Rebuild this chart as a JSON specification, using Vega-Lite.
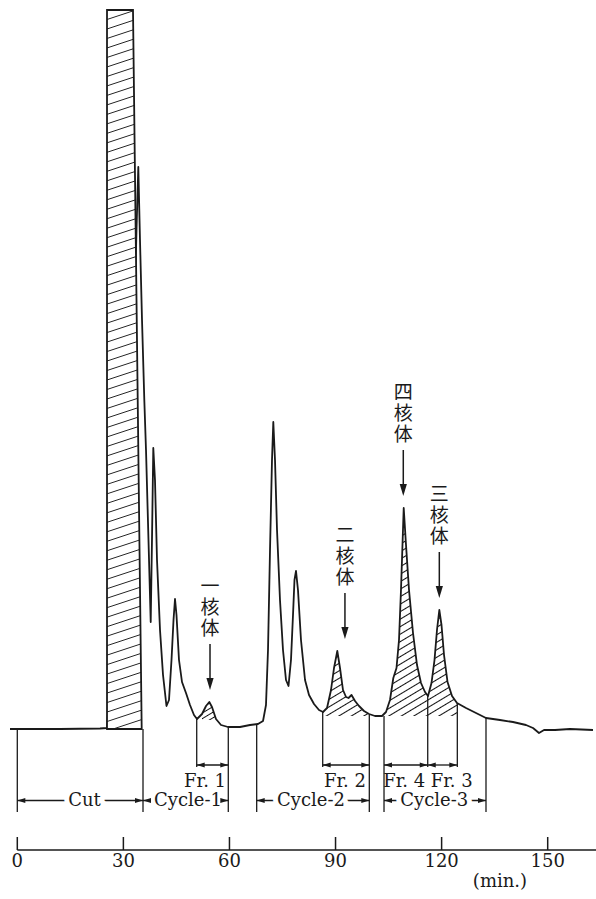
{
"$schema": "https://vega.github.io/schema/vega-lite/v6.json",
"width": 596, "height": 899, "autosize": {"type": "none"}, "padding": 0, "background": "white",
"config": {"view": {"stroke": null}, "axis": {"disable": true}},
"datasets": {
"curve": [
{"t":-2.06,"v":0},{"t":12.08,"v":0},{"t":23.39,"v":0.5},{"t":25.37,"v":1},{"t":33.29,"v":439},{"t":33.71,"v":499},{"t":34.22,"v":562},{"t":34.70,"v":489},{"t":35.27,"v":409},{"t":35.92,"v":329},{"t":36.40,"v":279},{"t":37.10,"v":189},{"t":37.73,"v":107},{"t":38.09,"v":189},{"t":38.46,"v":281},{"t":38.94,"v":249},{"t":39.51,"v":169},{"t":40.36,"v":99},{"t":41.21,"v":54},{"t":42.19,"v":23},{"t":42.90,"v":29},{"t":43.61,"v":69},{"t":44.18,"v":109},{"t":44.60,"v":130},{"t":45.02,"v":114},{"t":45.73,"v":69},{"t":46.58,"v":47},{"t":47.71,"v":36},{"t":48.84,"v":24},{"t":49.97,"v":14},{"t":50.82,"v":10},{"t":52.24,"v":15},{"t":53.37,"v":23},{"t":54.30,"v":27},{"t":55.06,"v":22},{"t":56.19,"v":10},{"t":57.61,"v":4},{"t":59.59,"v":2},{"t":62.98,"v":2},{"t":65.81,"v":4},{"t":68.07,"v":5},{"t":69.49,"v":8},{"t":70.33,"v":24},{"t":70.90,"v":79},{"t":71.47,"v":179},{"t":72.03,"v":269},{"t":72.40,"v":307},{"t":72.88,"v":269},{"t":73.45,"v":199},{"t":74.29,"v":129},{"t":75.14,"v":79},{"t":75.99,"v":49},{"t":76.70,"v":43},{"t":77.40,"v":69},{"t":77.97,"v":114},{"t":78.39,"v":149},{"t":78.82,"v":158},{"t":79.38,"v":139},{"t":80.23,"v":89},{"t":81.37,"v":49},{"t":82.50,"v":34},{"t":83.91,"v":25},{"t":85.32,"v":19},{"t":86.46,"v":17},{"t":87.59,"v":21},{"t":88.72,"v":39},{"t":89.57,"v":61},{"t":90.50,"v":78},{"t":91.26,"v":61},{"t":92.11,"v":39},{"t":92.97,"v":32},{"t":93.67,"v":31},{"t":94.52,"v":34},{"t":95.51,"v":28},{"t":96.64,"v":23},{"t":98.05,"v":18},{"t":99.47,"v":15},{"t":101.16,"v":13},{"t":103.14,"v":13},{"t":104.27,"v":17},{"t":105.40,"v":29},{"t":106.34,"v":51},{"t":107.24,"v":61},{"t":107.95,"v":89},{"t":108.51,"v":139},{"t":109.28,"v":221},{"t":109.93,"v":184},{"t":110.78,"v":139},{"t":111.91,"v":96},{"t":113.04,"v":64},{"t":114.17,"v":46},{"t":115.30,"v":37},{"t":116.15,"v":33},{"t":117.14,"v":46},{"t":117.99,"v":69},{"t":118.69,"v":99},{"t":119.35,"v":119},{"t":119.97,"v":104},{"t":120.68,"v":74},{"t":121.67,"v":47},{"t":122.94,"v":33},{"t":124.35,"v":26},{"t":126.90,"v":21},{"t":129.73,"v":16},{"t":132.55,"v":11},{"t":136.51,"v":9},{"t":140.19,"v":7},{"t":143.86,"v":4},{"t":145.85,"v":1},{"t":147.54,"v":-4},{"t":148.96,"v":-1},{"t":152.07,"v":-1},{"t":156.31,"v":0},{"t":162.81,"v":-1}
],
"cut": [{"v":719,"left":25.37,"right":32.72},{"v":0,"left":25.37,"right":35.18}],
"bounds": [
{"t":0,"top":-1,"kind":"cycle"},{"t":35.55,"top":0,"kind":"cycle"},{"t":50.74,"top":10,"kind":"fraction"},{"t":59.67,"top":2,"kind":"cycle"},{"t":67.70,"top":4,"kind":"cycle"},{"t":86.37,"top":17,"kind":"fraction"},{"t":99.55,"top":14,"kind":"cycle"},{"t":103.71,"top":13,"kind":"cycle"},{"t":116.07,"top":34,"kind":"fraction"},{"t":124.44,"top":26,"kind":"fraction"},{"t":132.55,"top":11,"kind":"cycle"}
],
"fractions": [
{"label":"Fr. 1","start":50.74,"end":59.67,"mid":53.09},
{"label":"Fr. 2","start":86.37,"end":99.55,"mid":92.66},
{"label":"Fr. 4","start":103.71,"end":116.07,"mid":109.42},
{"label":"Fr. 3","start":116.07,"end":124.44,"mid":122.85}
],
"cycles": [
{"label":"Cut","start":0,"end":35.55,"mid":19.0},
{"label":"Cycle-1","start":35.55,"end":59.67,"mid":48.28},
{"label":"Cycle-2","start":67.70,"end":99.55,"mid":83.06},
{"label":"Cycle-3","start":103.71,"end":132.55,"mid":117.9}
],
"compounds": [
{"label":"一\n核\n体","t":54.50,"peak":27},
{"label":"二\n核\n体","t":92.66,"peak":78},
{"label":"四\n核\n体","t":109.16,"peak":221},
{"label":"三\n核\n体","t":119.35,"peak":119}
],
"ticks": [{"t":0},{"t":30},{"t":60},{"t":90},{"t":120},{"t":150}]
},
"layer": [
{
"data": {"name": "curve"},
"transform": [{"filter": "datum.t >= 52.2 && datum.t <= 56.2"}],
"mark": {"type": "area", "opacity": 1, "fill": {"gradient": "linear", "x1": 0, "y1": 0, "x2": 0.5961, "y2": 1.2774, "stops": [
{"offset":0.16,"color":"#fff"},{"offset":0.2,"color":"#111"},{"offset":0.24,"color":"#fff"},
{"offset":0.36,"color":"#fff"},{"offset":0.4,"color":"#111"},{"offset":0.44,"color":"#fff"},
{"offset":0.56,"color":"#fff"},{"offset":0.6,"color":"#111"},{"offset":0.64,"color":"#fff"},
{"offset":0.76,"color":"#fff"},{"offset":0.8,"color":"#111"},{"offset":0.84,"color":"#fff"}]}},
"encoding": {
"x": {"field": "t", "type": "quantitative", "scale": {"domain": [-4.892, 163.66], "nice": false, "zero": false}, "axis": null},
"y": {"field": "v", "type": "quantitative", "scale": {"domain": [-170, 729], "nice": false, "zero": false}, "axis": null},
"y2": {"datum": 9}
}
},
{
"data": {"name": "curve"},
"transform": [{"filter": "datum.t >= 86.4 && datum.t <= 124.4"}],
"mark": {"type": "area", "opacity": 1, "fill": {"gradient": "linear", "x1": 0, "y1": 0, "x2": 0.485, "y2": 1.2548, "stops": [
{"offset":0.021,"color":"#fff"},{"offset":0.025,"color":"#111"},{"offset":0.029,"color":"#fff"},
{"offset":0.046,"color":"#fff"},{"offset":0.05,"color":"#111"},{"offset":0.054,"color":"#fff"},
{"offset":0.071,"color":"#fff"},{"offset":0.075,"color":"#111"},{"offset":0.079,"color":"#fff"},
{"offset":0.096,"color":"#fff"},{"offset":0.1,"color":"#111"},{"offset":0.104,"color":"#fff"},
{"offset":0.121,"color":"#fff"},{"offset":0.125,"color":"#111"},{"offset":0.129,"color":"#fff"},
{"offset":0.146,"color":"#fff"},{"offset":0.15,"color":"#111"},{"offset":0.154,"color":"#fff"},
{"offset":0.171,"color":"#fff"},{"offset":0.175,"color":"#111"},{"offset":0.179,"color":"#fff"},
{"offset":0.196,"color":"#fff"},{"offset":0.2,"color":"#111"},{"offset":0.204,"color":"#fff"},
{"offset":0.221,"color":"#fff"},{"offset":0.225,"color":"#111"},{"offset":0.229,"color":"#fff"},
{"offset":0.246,"color":"#fff"},{"offset":0.25,"color":"#111"},{"offset":0.254,"color":"#fff"},
{"offset":0.271,"color":"#fff"},{"offset":0.275,"color":"#111"},{"offset":0.279,"color":"#fff"},
{"offset":0.296,"color":"#fff"},{"offset":0.3,"color":"#111"},{"offset":0.304,"color":"#fff"},
{"offset":0.321,"color":"#fff"},{"offset":0.325,"color":"#111"},{"offset":0.329,"color":"#fff"},
{"offset":0.346,"color":"#fff"},{"offset":0.35,"color":"#111"},{"offset":0.354,"color":"#fff"},
{"offset":0.371,"color":"#fff"},{"offset":0.375,"color":"#111"},{"offset":0.379,"color":"#fff"},
{"offset":0.396,"color":"#fff"},{"offset":0.4,"color":"#111"},{"offset":0.404,"color":"#fff"},
{"offset":0.421,"color":"#fff"},{"offset":0.425,"color":"#111"},{"offset":0.429,"color":"#fff"},
{"offset":0.446,"color":"#fff"},{"offset":0.45,"color":"#111"},{"offset":0.454,"color":"#fff"},
{"offset":0.471,"color":"#fff"},{"offset":0.475,"color":"#111"},{"offset":0.479,"color":"#fff"},
{"offset":0.496,"color":"#fff"},{"offset":0.5,"color":"#111"},{"offset":0.504,"color":"#fff"},
{"offset":0.521,"color":"#fff"},{"offset":0.525,"color":"#111"},{"offset":0.529,"color":"#fff"},
{"offset":0.546,"color":"#fff"},{"offset":0.55,"color":"#111"},{"offset":0.554,"color":"#fff"},
{"offset":0.571,"color":"#fff"},{"offset":0.575,"color":"#111"},{"offset":0.579,"color":"#fff"},
{"offset":0.596,"color":"#fff"},{"offset":0.6,"color":"#111"},{"offset":0.604,"color":"#fff"},
{"offset":0.621,"color":"#fff"},{"offset":0.625,"color":"#111"},{"offset":0.629,"color":"#fff"},
{"offset":0.646,"color":"#fff"},{"offset":0.65,"color":"#111"},{"offset":0.654,"color":"#fff"},
{"offset":0.671,"color":"#fff"},{"offset":0.675,"color":"#111"},{"offset":0.679,"color":"#fff"},
{"offset":0.696,"color":"#fff"},{"offset":0.7,"color":"#111"},{"offset":0.704,"color":"#fff"},
{"offset":0.721,"color":"#fff"},{"offset":0.725,"color":"#111"},{"offset":0.729,"color":"#fff"},
{"offset":0.746,"color":"#fff"},{"offset":0.75,"color":"#111"},{"offset":0.754,"color":"#fff"},
{"offset":0.771,"color":"#fff"},{"offset":0.775,"color":"#111"},{"offset":0.779,"color":"#fff"},
{"offset":0.796,"color":"#fff"},{"offset":0.8,"color":"#111"},{"offset":0.804,"color":"#fff"},
{"offset":0.821,"color":"#fff"},{"offset":0.825,"color":"#111"},{"offset":0.829,"color":"#fff"},
{"offset":0.846,"color":"#fff"},{"offset":0.85,"color":"#111"},{"offset":0.854,"color":"#fff"},
{"offset":0.871,"color":"#fff"},{"offset":0.875,"color":"#111"},{"offset":0.879,"color":"#fff"},
{"offset":0.896,"color":"#fff"},{"offset":0.9,"color":"#111"},{"offset":0.904,"color":"#fff"},
{"offset":0.921,"color":"#fff"},{"offset":0.925,"color":"#111"},{"offset":0.929,"color":"#fff"},
{"offset":0.946,"color":"#fff"},{"offset":0.95,"color":"#111"},{"offset":0.954,"color":"#fff"}]}},
"encoding": {
"x": {"field": "t", "type": "quantitative", "scale": {"domain": [-4.892, 163.66], "nice": false, "zero": false}, "axis": null},
"y": {"field": "v", "type": "quantitative", "scale": {"domain": [-170, 729], "nice": false, "zero": false}, "axis": null},
"y2": {"datum": 13}
}
},
{
"data": {"name": "curve"},
"mark": {"type": "line", "color": "#1a1a1a", "strokeWidth": 1.8, "strokeJoin": "round"},
"encoding": {
"x": {"field": "t", "type": "quantitative", "scale": {"domain": [-4.892, 163.66], "nice": false, "zero": false}, "axis": null},
"y": {"field": "v", "type": "quantitative", "scale": {"domain": [-170, 729], "nice": false, "zero": false}, "axis": null}
}
},
{
"data": {"name": "cut"},
"mark": {"type": "area", "orient": "horizontal", "opacity": 1, "stroke": "#1a1a1a", "strokeWidth": 1.8, "fill": {"gradient": "linear", "x1": 0, "y1": 0, "x2": 0.0168, "y2": 1.0553, "stops": [
{"offset":0.0112,"color":"#fff"},{"offset":0.0125,"color":"#222"},{"offset":0.0138,"color":"#fff"},
{"offset":0.0237,"color":"#fff"},{"offset":0.025,"color":"#222"},{"offset":0.0263,"color":"#fff"},
{"offset":0.0362,"color":"#fff"},{"offset":0.0375,"color":"#222"},{"offset":0.0388,"color":"#fff"},
{"offset":0.0487,"color":"#fff"},{"offset":0.05,"color":"#222"},{"offset":0.0513,"color":"#fff"},
{"offset":0.0612,"color":"#fff"},{"offset":0.0625,"color":"#222"},{"offset":0.0638,"color":"#fff"},
{"offset":0.0737,"color":"#fff"},{"offset":0.075,"color":"#222"},{"offset":0.0763,"color":"#fff"},
{"offset":0.0862,"color":"#fff"},{"offset":0.0875,"color":"#222"},{"offset":0.0888,"color":"#fff"},
{"offset":0.0987,"color":"#fff"},{"offset":0.1,"color":"#222"},{"offset":0.1013,"color":"#fff"},
{"offset":0.1112,"color":"#fff"},{"offset":0.1125,"color":"#222"},{"offset":0.1138,"color":"#fff"},
{"offset":0.1237,"color":"#fff"},{"offset":0.125,"color":"#222"},{"offset":0.1263,"color":"#fff"},
{"offset":0.1362,"color":"#fff"},{"offset":0.1375,"color":"#222"},{"offset":0.1388,"color":"#fff"},
{"offset":0.1487,"color":"#fff"},{"offset":0.15,"color":"#222"},{"offset":0.1513,"color":"#fff"},
{"offset":0.1612,"color":"#fff"},{"offset":0.1625,"color":"#222"},{"offset":0.1638,"color":"#fff"},
{"offset":0.1737,"color":"#fff"},{"offset":0.175,"color":"#222"},{"offset":0.1763,"color":"#fff"},
{"offset":0.1862,"color":"#fff"},{"offset":0.1875,"color":"#222"},{"offset":0.1888,"color":"#fff"},
{"offset":0.1987,"color":"#fff"},{"offset":0.2,"color":"#222"},{"offset":0.2013,"color":"#fff"},
{"offset":0.2112,"color":"#fff"},{"offset":0.2125,"color":"#222"},{"offset":0.2138,"color":"#fff"},
{"offset":0.2237,"color":"#fff"},{"offset":0.225,"color":"#222"},{"offset":0.2263,"color":"#fff"},
{"offset":0.2362,"color":"#fff"},{"offset":0.2375,"color":"#222"},{"offset":0.2388,"color":"#fff"},
{"offset":0.2487,"color":"#fff"},{"offset":0.25,"color":"#222"},{"offset":0.2513,"color":"#fff"},
{"offset":0.2612,"color":"#fff"},{"offset":0.2625,"color":"#222"},{"offset":0.2638,"color":"#fff"},
{"offset":0.2737,"color":"#fff"},{"offset":0.275,"color":"#222"},{"offset":0.2763,"color":"#fff"},
{"offset":0.2862,"color":"#fff"},{"offset":0.2875,"color":"#222"},{"offset":0.2888,"color":"#fff"},
{"offset":0.2987,"color":"#fff"},{"offset":0.3,"color":"#222"},{"offset":0.3013,"color":"#fff"},
{"offset":0.3112,"color":"#fff"},{"offset":0.3125,"color":"#222"},{"offset":0.3138,"color":"#fff"},
{"offset":0.3237,"color":"#fff"},{"offset":0.325,"color":"#222"},{"offset":0.3263,"color":"#fff"},
{"offset":0.3362,"color":"#fff"},{"offset":0.3375,"color":"#222"},{"offset":0.3388,"color":"#fff"},
{"offset":0.3487,"color":"#fff"},{"offset":0.35,"color":"#222"},{"offset":0.3513,"color":"#fff"},
{"offset":0.3612,"color":"#fff"},{"offset":0.3625,"color":"#222"},{"offset":0.3638,"color":"#fff"},
{"offset":0.3737,"color":"#fff"},{"offset":0.375,"color":"#222"},{"offset":0.3763,"color":"#fff"},
{"offset":0.3862,"color":"#fff"},{"offset":0.3875,"color":"#222"},{"offset":0.3888,"color":"#fff"},
{"offset":0.3987,"color":"#fff"},{"offset":0.4,"color":"#222"},{"offset":0.4013,"color":"#fff"},
{"offset":0.4112,"color":"#fff"},{"offset":0.4125,"color":"#222"},{"offset":0.4138,"color":"#fff"},
{"offset":0.4237,"color":"#fff"},{"offset":0.425,"color":"#222"},{"offset":0.4263,"color":"#fff"},
{"offset":0.4362,"color":"#fff"},{"offset":0.4375,"color":"#222"},{"offset":0.4388,"color":"#fff"},
{"offset":0.4487,"color":"#fff"},{"offset":0.45,"color":"#222"},{"offset":0.4513,"color":"#fff"},
{"offset":0.4612,"color":"#fff"},{"offset":0.4625,"color":"#222"},{"offset":0.4638,"color":"#fff"},
{"offset":0.4737,"color":"#fff"},{"offset":0.475,"color":"#222"},{"offset":0.4763,"color":"#fff"},
{"offset":0.4862,"color":"#fff"},{"offset":0.4875,"color":"#222"},{"offset":0.4888,"color":"#fff"},
{"offset":0.4987,"color":"#fff"},{"offset":0.5,"color":"#222"},{"offset":0.5013,"color":"#fff"},
{"offset":0.5112,"color":"#fff"},{"offset":0.5125,"color":"#222"},{"offset":0.5138,"color":"#fff"},
{"offset":0.5237,"color":"#fff"},{"offset":0.525,"color":"#222"},{"offset":0.5263,"color":"#fff"},
{"offset":0.5362,"color":"#fff"},{"offset":0.5375,"color":"#222"},{"offset":0.5388,"color":"#fff"},
{"offset":0.5487,"color":"#fff"},{"offset":0.55,"color":"#222"},{"offset":0.5513,"color":"#fff"},
{"offset":0.5612,"color":"#fff"},{"offset":0.5625,"color":"#222"},{"offset":0.5638,"color":"#fff"},
{"offset":0.5737,"color":"#fff"},{"offset":0.575,"color":"#222"},{"offset":0.5763,"color":"#fff"},
{"offset":0.5862,"color":"#fff"},{"offset":0.5875,"color":"#222"},{"offset":0.5888,"color":"#fff"},
{"offset":0.5987,"color":"#fff"},{"offset":0.6,"color":"#222"},{"offset":0.6013,"color":"#fff"},
{"offset":0.6112,"color":"#fff"},{"offset":0.6125,"color":"#222"},{"offset":0.6138,"color":"#fff"},
{"offset":0.6237,"color":"#fff"},{"offset":0.625,"color":"#222"},{"offset":0.6263,"color":"#fff"},
{"offset":0.6362,"color":"#fff"},{"offset":0.6375,"color":"#222"},{"offset":0.6388,"color":"#fff"},
{"offset":0.6487,"color":"#fff"},{"offset":0.65,"color":"#222"},{"offset":0.6513,"color":"#fff"},
{"offset":0.6612,"color":"#fff"},{"offset":0.6625,"color":"#222"},{"offset":0.6638,"color":"#fff"},
{"offset":0.6737,"color":"#fff"},{"offset":0.675,"color":"#222"},{"offset":0.6763,"color":"#fff"},
{"offset":0.6862,"color":"#fff"},{"offset":0.6875,"color":"#222"},{"offset":0.6888,"color":"#fff"},
{"offset":0.6987,"color":"#fff"},{"offset":0.7,"color":"#222"},{"offset":0.7013,"color":"#fff"},
{"offset":0.7112,"color":"#fff"},{"offset":0.7125,"color":"#222"},{"offset":0.7138,"color":"#fff"},
{"offset":0.7237,"color":"#fff"},{"offset":0.725,"color":"#222"},{"offset":0.7263,"color":"#fff"},
{"offset":0.7362,"color":"#fff"},{"offset":0.7375,"color":"#222"},{"offset":0.7388,"color":"#fff"},
{"offset":0.7487,"color":"#fff"},{"offset":0.75,"color":"#222"},{"offset":0.7513,"color":"#fff"},
{"offset":0.7612,"color":"#fff"},{"offset":0.7625,"color":"#222"},{"offset":0.7638,"color":"#fff"},
{"offset":0.7737,"color":"#fff"},{"offset":0.775,"color":"#222"},{"offset":0.7763,"color":"#fff"},
{"offset":0.7862,"color":"#fff"},{"offset":0.7875,"color":"#222"},{"offset":0.7888,"color":"#fff"},
{"offset":0.7987,"color":"#fff"},{"offset":0.8,"color":"#222"},{"offset":0.8013,"color":"#fff"},
{"offset":0.8112,"color":"#fff"},{"offset":0.8125,"color":"#222"},{"offset":0.8138,"color":"#fff"},
{"offset":0.8237,"color":"#fff"},{"offset":0.825,"color":"#222"},{"offset":0.8263,"color":"#fff"},
{"offset":0.8362,"color":"#fff"},{"offset":0.8375,"color":"#222"},{"offset":0.8388,"color":"#fff"},
{"offset":0.8487,"color":"#fff"},{"offset":0.85,"color":"#222"},{"offset":0.8513,"color":"#fff"},
{"offset":0.8612,"color":"#fff"},{"offset":0.8625,"color":"#222"},{"offset":0.8638,"color":"#fff"},
{"offset":0.8737,"color":"#fff"},{"offset":0.875,"color":"#222"},{"offset":0.8763,"color":"#fff"},
{"offset":0.8862,"color":"#fff"},{"offset":0.8875,"color":"#222"},{"offset":0.8888,"color":"#fff"},
{"offset":0.8987,"color":"#fff"},{"offset":0.9,"color":"#222"},{"offset":0.9013,"color":"#fff"},
{"offset":0.9112,"color":"#fff"},{"offset":0.9125,"color":"#222"},{"offset":0.9138,"color":"#fff"},
{"offset":0.9237,"color":"#fff"},{"offset":0.925,"color":"#222"},{"offset":0.9263,"color":"#fff"},
{"offset":0.9362,"color":"#fff"},{"offset":0.9375,"color":"#222"},{"offset":0.9388,"color":"#fff"},
{"offset":0.9487,"color":"#fff"},{"offset":0.95,"color":"#222"},{"offset":0.9513,"color":"#fff"},
{"offset":0.9612,"color":"#fff"},{"offset":0.9625,"color":"#222"},{"offset":0.9638,"color":"#fff"},
{"offset":0.9737,"color":"#fff"},{"offset":0.975,"color":"#222"},{"offset":0.9763,"color":"#fff"}]}},
"encoding": {
"y": {"field": "v", "type": "quantitative", "scale": {"domain": [-170, 729], "nice": false, "zero": false}, "axis": null},
"x": {"field": "left", "type": "quantitative", "scale": {"domain": [-4.892, 163.66], "nice": false, "zero": false}, "axis": null},
"x2": {"field": "right"}
}
},
{
"data": {"name": "bounds"},
"transform": [{"filter": "datum.kind === 'fraction'"}],
"mark": {"type": "rule", "color": "#1a1a1a", "strokeWidth": 1.3},
"encoding": {
"x": {"field": "t", "type": "quantitative", "scale": {"domain": [-4.892, 163.66], "nice": false, "zero": false}, "axis": null},
"y": {"field": "top", "type": "quantitative", "scale": {"domain": [-170, 729], "nice": false, "zero": false}, "axis": null},
"y2": {"datum": -38}
}
},
{
"data": {"name": "bounds"},
"transform": [{"filter": "datum.kind === 'cycle'"}],
"mark": {"type": "rule", "color": "#1a1a1a", "strokeWidth": 1.3},
"encoding": {
"x": {"field": "t", "type": "quantitative", "scale": {"domain": [-4.892, 163.66], "nice": false, "zero": false}, "axis": null},
"y": {"field": "top", "type": "quantitative", "scale": {"domain": [-170, 729], "nice": false, "zero": false}, "axis": null},
"y2": {"datum": -83}
}
},
{
"data": {"name": "fractions"},
"mark": {"type": "rule", "color": "#1a1a1a", "strokeWidth": 1.3},
"encoding": {
"x": {"field": "start", "type": "quantitative", "scale": {"domain": [-4.892, 163.66], "nice": false, "zero": false}, "axis": null},
"x2": {"field": "end"},
"y": {"datum": -36, "scale": {"domain": [-170, 729], "nice": false, "zero": false}, "axis": null}
}
},
{
"data": {"name": "fractions"},
"mark": {"type": "point", "filled": true, "opacity": 1, "color": "#1a1a1a", "strokeWidth": 0, "size": 64, "shape": "M0,0L2,-0.6L2,0.6Z"},
"encoding": {
"x": {"field": "start", "type": "quantitative", "scale": {"domain": [-4.892, 163.66], "nice": false, "zero": false}, "axis": null},
"y": {"datum": -36, "scale": {"domain": [-170, 729], "nice": false, "zero": false}, "axis": null}
}
},
{
"data": {"name": "fractions"},
"mark": {"type": "point", "filled": true, "opacity": 1, "color": "#1a1a1a", "strokeWidth": 0, "size": 64, "shape": "M0,0L-2,-0.6L-2,0.6Z"},
"encoding": {
"x": {"field": "end", "type": "quantitative", "scale": {"domain": [-4.892, 163.66], "nice": false, "zero": false}, "axis": null},
"y": {"datum": -36, "scale": {"domain": [-170, 729], "nice": false, "zero": false}, "axis": null}
}
},
{
"data": {"name": "fractions"},
"mark": {"type": "text", "font": "DejaVu Serif", "fontSize": 18, "color": "#1a1a1a", "baseline": "middle", "align": "center"},
"encoding": {
"x": {"field": "mid", "type": "quantitative", "scale": {"domain": [-4.892, 163.66], "nice": false, "zero": false}, "axis": null},
"y": {"datum": -52.5, "scale": {"domain": [-170, 729], "nice": false, "zero": false}, "axis": null},
"text": {"field": "label", "type": "nominal"}
}
},
{
"data": {"name": "cycles"},
"mark": {"type": "rule", "color": "#1a1a1a", "strokeWidth": 1.3},
"encoding": {
"x": {"field": "start", "type": "quantitative", "scale": {"domain": [-4.892, 163.66], "nice": false, "zero": false}, "axis": null},
"x2": {"field": "end"},
"y": {"datum": -71.5, "scale": {"domain": [-170, 729], "nice": false, "zero": false}, "axis": null}
}
},
{
"data": {"name": "cycles"},
"mark": {"type": "text", "font": "DejaVu Serif", "fontSize": 18, "fill": "white", "stroke": "white", "strokeWidth": 10, "strokeJoin": "round", "baseline": "middle", "align": "center"},
"encoding": {
"x": {"field": "mid", "type": "quantitative", "scale": {"domain": [-4.892, 163.66], "nice": false, "zero": false}, "axis": null},
"y": {"datum": -71.5, "scale": {"domain": [-170, 729], "nice": false, "zero": false}, "axis": null},
"text": {"field": "label", "type": "nominal"}
}
},
{
"data": {"name": "cycles"},
"mark": {"type": "text", "font": "DejaVu Serif", "fontSize": 18, "color": "#1a1a1a", "baseline": "middle", "align": "center"},
"encoding": {
"x": {"field": "mid", "type": "quantitative", "scale": {"domain": [-4.892, 163.66], "nice": false, "zero": false}, "axis": null},
"y": {"datum": -71.5, "scale": {"domain": [-170, 729], "nice": false, "zero": false}, "axis": null},
"text": {"field": "label", "type": "nominal"}
}
},
{
"data": {"name": "cycles"},
"mark": {"type": "point", "filled": true, "opacity": 1, "color": "#1a1a1a", "strokeWidth": 0, "size": 64, "shape": "M0,0L2,-0.6L2,0.6Z"},
"encoding": {
"x": {"field": "start", "type": "quantitative", "scale": {"domain": [-4.892, 163.66], "nice": false, "zero": false}, "axis": null},
"y": {"datum": -71.5, "scale": {"domain": [-170, 729], "nice": false, "zero": false}, "axis": null}
}
},
{
"data": {"name": "cycles"},
"mark": {"type": "point", "filled": true, "opacity": 1, "color": "#1a1a1a", "strokeWidth": 0, "size": 64, "shape": "M0,0L-2,-0.6L-2,0.6Z"},
"encoding": {
"x": {"field": "end", "type": "quantitative", "scale": {"domain": [-4.892, 163.66], "nice": false, "zero": false}, "axis": null},
"y": {"datum": -71.5, "scale": {"domain": [-170, 729], "nice": false, "zero": false}, "axis": null}
}
},
{
"data": {"name": "compounds"},
"mark": {"type": "rule", "color": "#1a1a1a", "strokeWidth": 1.5, "yOffset": -58, "y2Offset": -20},
"encoding": {
"x": {"field": "t", "type": "quantitative", "scale": {"domain": [-4.892, 163.66], "nice": false, "zero": false}, "axis": null},
"y": {"field": "peak", "type": "quantitative", "scale": {"domain": [-170, 729], "nice": false, "zero": false}, "axis": null},
"y2": {"field": "peak"}
}
},
{
"data": {"name": "compounds"},
"mark": {"type": "point", "filled": true, "opacity": 1, "color": "#1a1a1a", "strokeWidth": 0, "size": 144, "shape": "M0,0L-0.6,-2L0.6,-2Z", "yOffset": -12},
"encoding": {
"x": {"field": "t", "type": "quantitative", "scale": {"domain": [-4.892, 163.66], "nice": false, "zero": false}, "axis": null},
"y": {"field": "peak", "type": "quantitative", "scale": {"domain": [-170, 729], "nice": false, "zero": false}, "axis": null}
}
},
{
"data": {"name": "compounds"},
"mark": {"type": "text", "font": "Noto Sans CJK JP", "fontSize": 19, "color": "#1a1a1a", "baseline": "top", "align": "center", "lineBreak": "\n", "lineHeight": 21, "yOffset": -124},
"encoding": {
"x": {"field": "t", "type": "quantitative", "scale": {"domain": [-4.892, 163.66], "nice": false, "zero": false}, "axis": null},
"y": {"field": "peak", "type": "quantitative", "scale": {"domain": [-170, 729], "nice": false, "zero": false}, "axis": null},
"text": {"field": "label", "type": "nominal"}
}
},
{
"data": {"values": [{"from": 0, "to": 163.66}]},
"mark": {"type": "rule", "color": "#1a1a1a", "strokeWidth": 1.5},
"encoding": {
"x": {"field": "from", "type": "quantitative", "scale": {"domain": [-4.892, 163.66], "nice": false, "zero": false}, "axis": null},
"x2": {"field": "to"},
"y": {"datum": -121, "scale": {"domain": [-170, 729], "nice": false, "zero": false}, "axis": null}
}
},
{
"data": {"name": "ticks"},
"mark": {"type": "rule", "color": "#1a1a1a", "strokeWidth": 1.5},
"encoding": {
"x": {"field": "t", "type": "quantitative", "scale": {"domain": [-4.892, 163.66], "nice": false, "zero": false}, "axis": null},
"y": {"datum": -121, "scale": {"domain": [-170, 729], "nice": false, "zero": false}, "axis": null},
"y2": {"datum": -108}
}
},
{
"data": {"name": "ticks"},
"mark": {"type": "text", "font": "DejaVu Serif", "fontSize": 18, "color": "#1a1a1a", "baseline": "middle", "align": "center"},
"encoding": {
"x": {"field": "t", "type": "quantitative", "scale": {"domain": [-4.892, 163.66], "nice": false, "zero": false}, "axis": null},
"y": {"datum": -133, "scale": {"domain": [-170, 729], "nice": false, "zero": false}, "axis": null},
"text": {"field": "t", "type": "quantitative"}
}
},
{
"data": {"values": [{"t": 136.5, "label": "(min.)"}]},
"mark": {"type": "text", "font": "DejaVu Serif", "fontSize": 18, "color": "#1a1a1a", "baseline": "middle", "align": "center"},
"encoding": {
"x": {"field": "t", "type": "quantitative", "scale": {"domain": [-4.892, 163.66], "nice": false, "zero": false}, "axis": null},
"y": {"datum": -153, "scale": {"domain": [-170, 729], "nice": false, "zero": false}, "axis": null},
"text": {"field": "label", "type": "nominal"}
}
}
]
}
